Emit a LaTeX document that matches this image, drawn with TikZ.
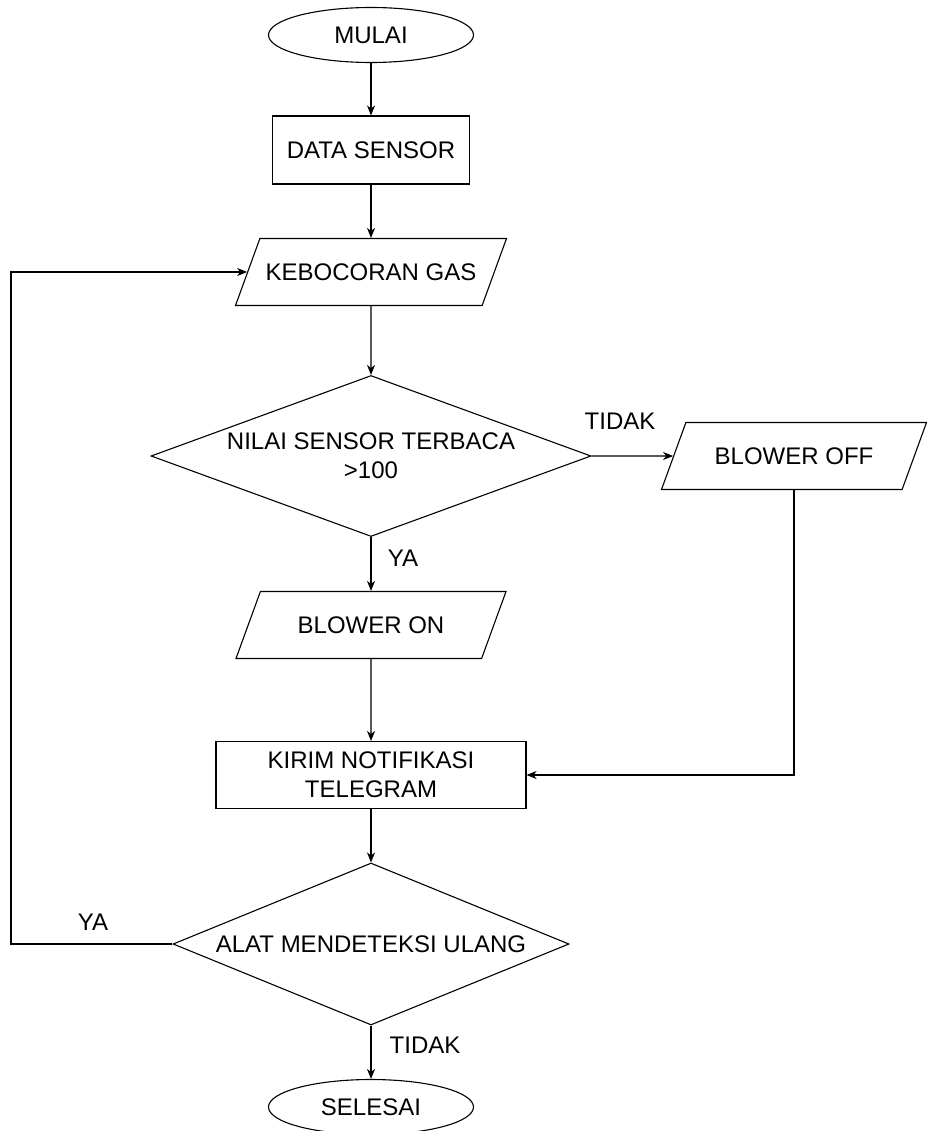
\documentclass[tikz,border=0pt]{standalone}
\usepackage{fontspec}
\setmainfont{Liberation Sans}
\usetikzlibrary{positioning, shapes.geometric, arrows.meta}

\begin{document}
\begin{tikzpicture}[x=1pt, y=-1pt, line width=1.1pt,
  font=\fontsize{24}{29}\selectfont,
  terminal/.style={ellipse, draw, minimum width=205pt, minimum height=55pt, inner sep=0pt},
  proses/.style={rectangle, draw, inner sep=0pt, align=center},
  dataio/.style={trapezium, trapezium left angle=70, trapezium right angle=110,
    trapezium stretches body=true, draw, inner xsep=0pt, inner ysep=25pt,
    text height=17pt, text depth=0pt},
  keputusan/.style={diamond, draw, inner sep=0pt, align=center},
  garis/.style={-{Stealth[length=10pt, width=8pt, inset=3pt]}},
  lbl/.style={inner sep=0pt}
]

  % Frame
  \fill[white] (0,0) rectangle (926,1131);
  \useasboundingbox (0,0) rectangle (926,1131);

  % Flow steps
  \node[terminal] (mulai) at (371,35) {MULAI};
  \node[proses, minimum width=197pt, minimum height=68pt] (data) at (371,150) {DATA SENSOR};
  \node[dataio, minimum width=271pt] (gas) at (371,272) {KEBOCORAN GAS};
  \node[keputusan, shape aspect=2.7, minimum width=440pt, minimum height=161pt] (nilai) at (371,456)
    {NILAI SENSOR TERBACA\\>100};
  \node[dataio, minimum width=265pt] (boff) at (794,456) {BLOWER OFF};
  \node[dataio, minimum width=270pt] (bon) at (371,625) {BLOWER ON};
  \node[proses, minimum width=310pt, minimum height=67pt] (kirim) at (371,775)
    {KIRIM NOTIFIKASI\\TELEGRAM};
  \node[keputusan, shape aspect=2.44, minimum width=396pt, minimum height=162pt] (alat) at (371,944)
    {ALAT MENDETEKSI ULANG};
  \node[terminal] (selesai) at (371,1107) {SELESAI};

  % Branch labels
  \node[lbl] (tidak1) at (620,421) {TIDAK};
  \node[lbl] (ya1) at (403,558) {YA};
  \node[lbl] (ya2) at (93,922) {YA};
  \node[lbl] (tidak2) at (425,1045) {TIDAK};

  % Connectors
  \draw[garis] (mulai) -- (data);
  \draw[garis] (data) -- (gas);
  \draw[garis] (gas) -- (nilai);
  \draw[garis] (nilai.east) -- (boff.west);
  \draw[garis] (nilai) -- (bon);
  \draw[garis] (bon) -- (kirim);
  \draw[garis] (boff.south) |- (kirim.east);
  \draw[garis] (kirim) -- (alat);
  \draw[garis] (alat) -- (selesai);

  % Loop back to the gas check
  \coordinate (belok) at (11,944);
  \draw[garis] (alat.west) -- (belok) |- (gas.west);

\end{tikzpicture}
\end{document}
